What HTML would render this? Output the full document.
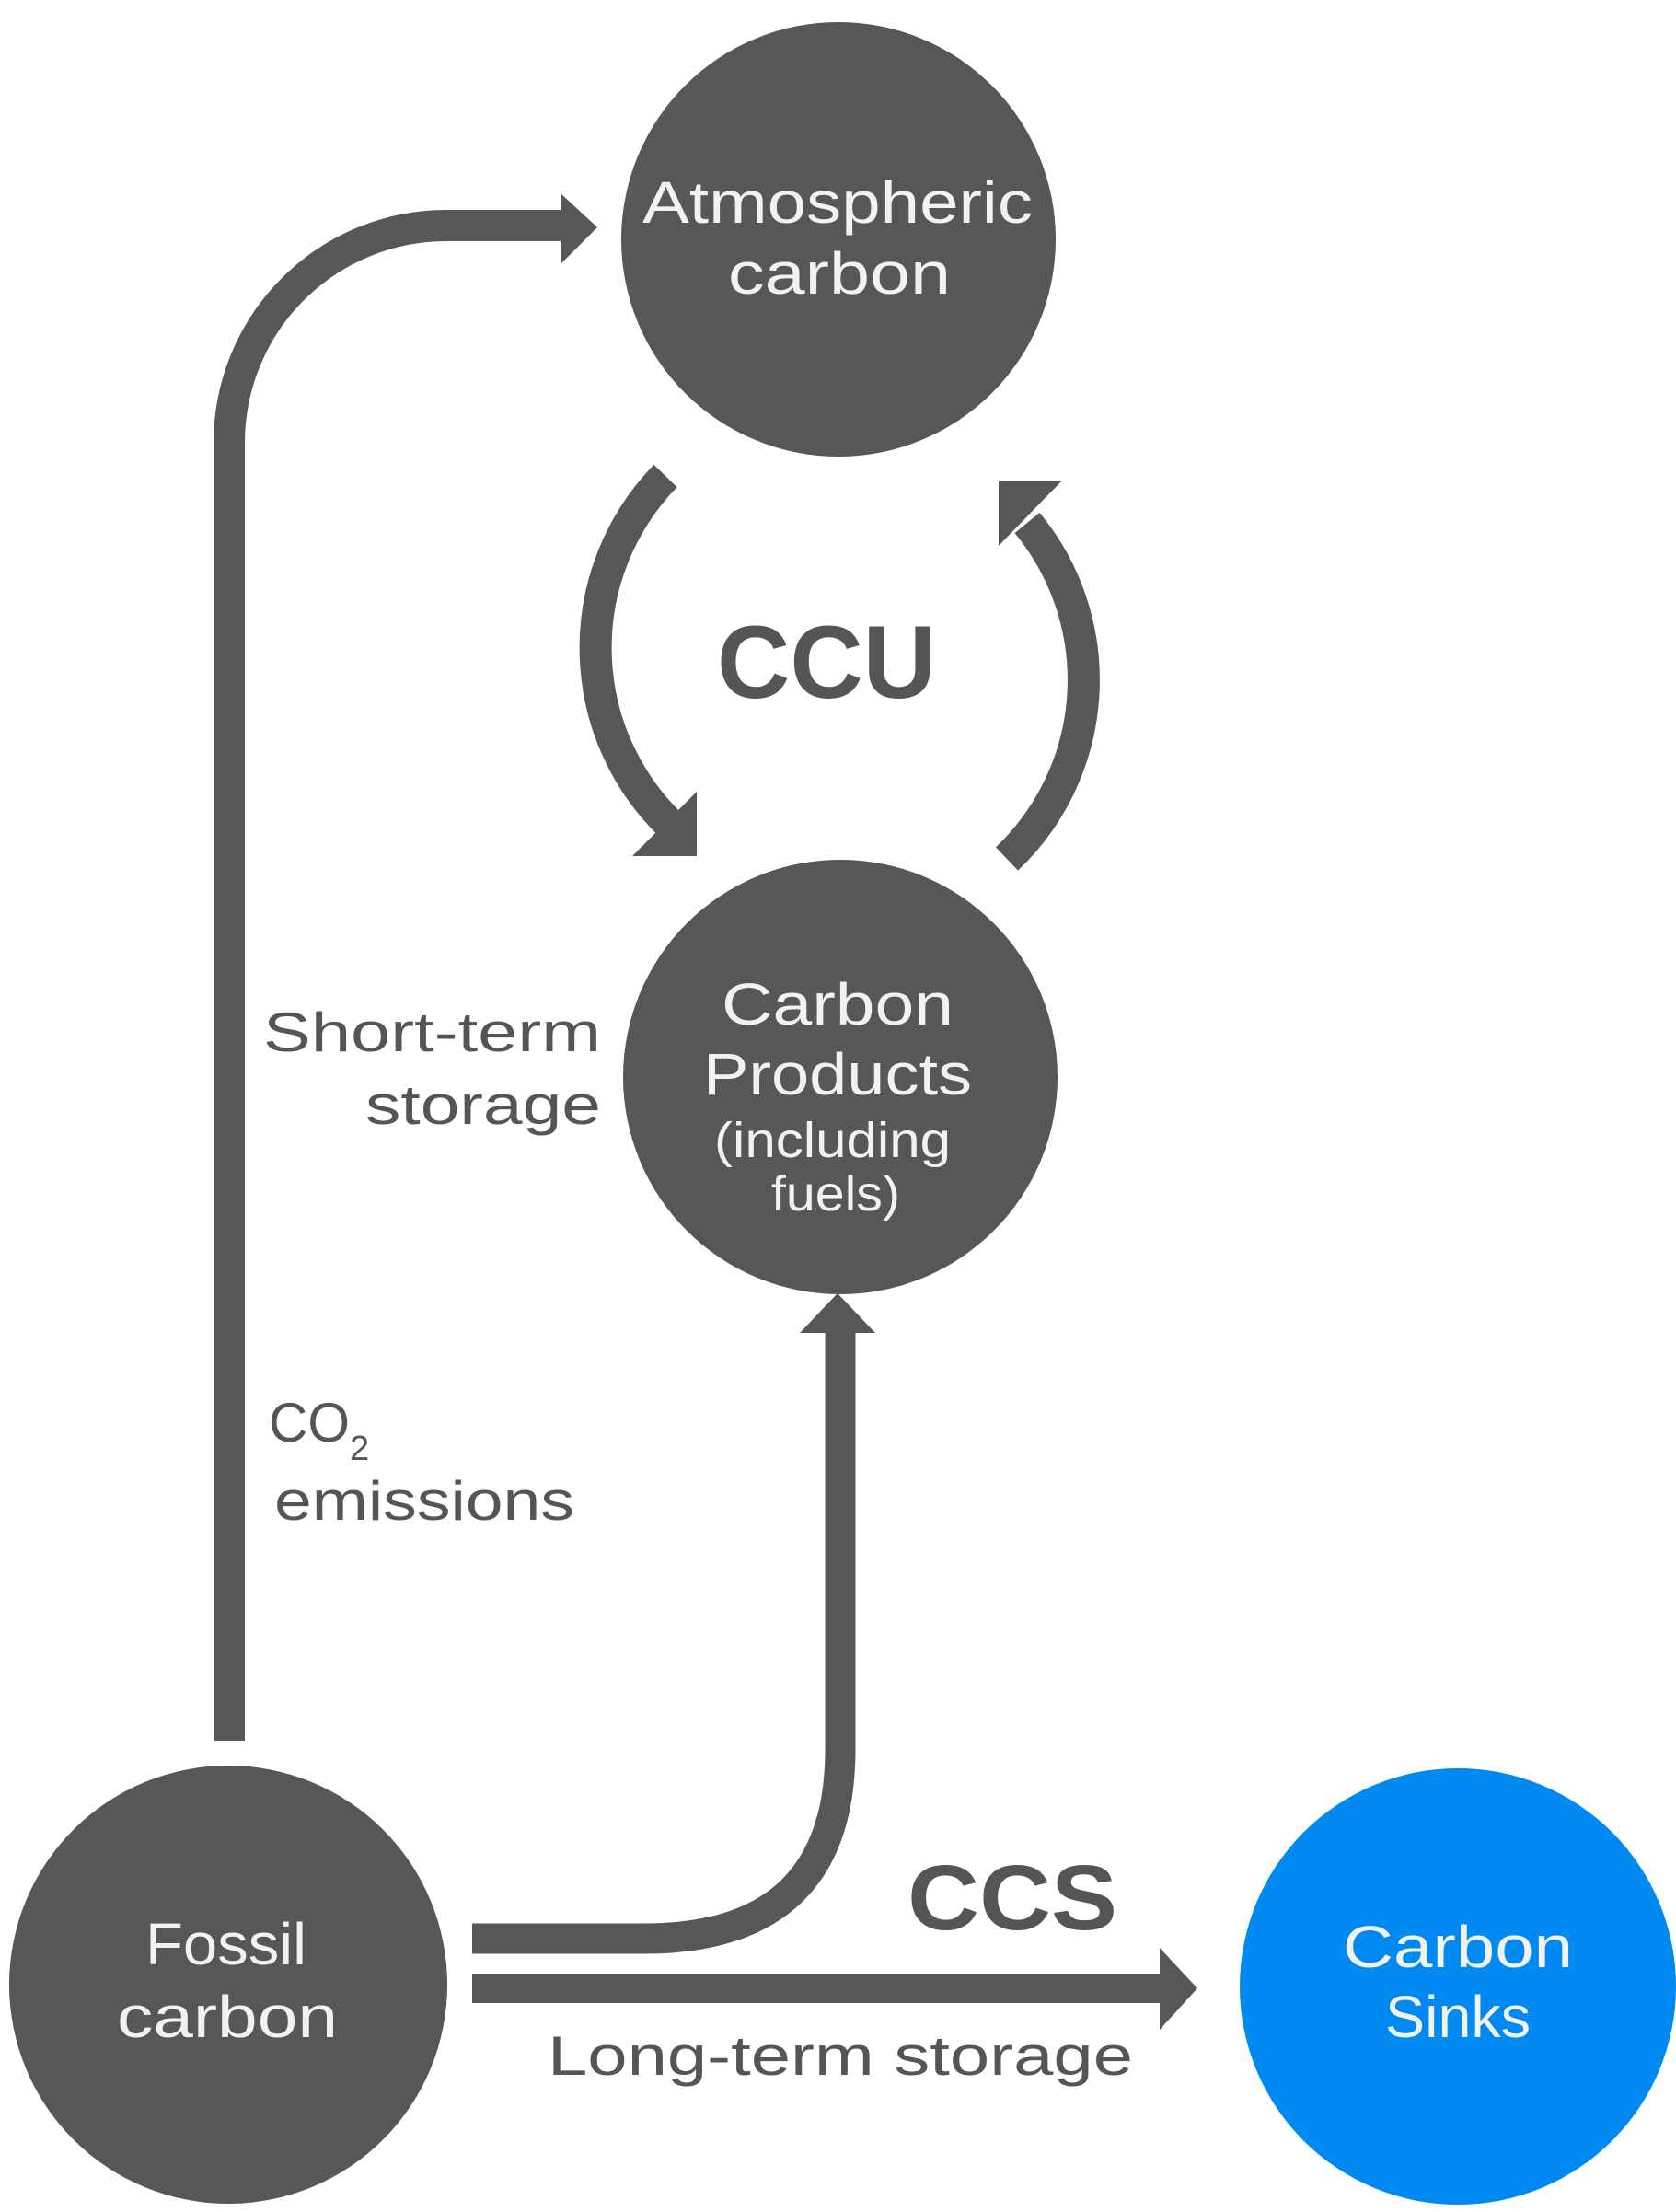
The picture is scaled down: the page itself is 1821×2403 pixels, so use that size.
<!DOCTYPE html>
<html><head><meta charset="utf-8"><style>
html,body{margin:0;padding:0;background:#fff;}
svg{display:block;}
text{font-family:"Liberation Sans",sans-serif;}
</style></head><body>
<svg width="1821" height="2403" viewBox="0 0 1821 2403" xmlns="http://www.w3.org/2000/svg">
<rect width="1821" height="2403" fill="#fff"/>
<g fill="#575757">
<circle cx="911" cy="260" r="236"/>
<circle cx="913" cy="1170" r="236"/>
<circle cx="248" cy="2156" r="238"/>
</g>
<circle cx="1584" cy="2158" r="237" fill="#0089f0"/>
<g fill="none" stroke="#575757" stroke-width="34">
<path d="M249,1891 L249,481 A236,236 0 0 1 485,245 L612,245"/>
<path d="M513,2106 L700,2106 C850,2106 913,2030 913,1900 L913,1445" stroke-width="33"/>
<path d="M513,2160 L1262,2160" stroke-width="32"/>
<path d="M723,517 A268,268 0 0 0 738,905" stroke-width="35"/>
<path d="M1094,933 A268,268 0 0 0 1116,568" stroke-width="35"/>
</g>
<g fill="#575757">
<polygon points="609,210 649,247 609,287"/>
<polygon points="869,1448 910,1405 951,1448"/>
<polygon points="1260,2116 1301,2160 1260,2205"/>
<polygon points="687,930 757,930 757,860"/>
<polygon points="1085,522 1154,522 1085,593"/>
</g>
<g fill="#f2f2f2" font-size="64">
<text x="698" y="242" textLength="424" lengthAdjust="spacingAndGlyphs">Atmospheric</text>
<text x="791" y="319" textLength="242" lengthAdjust="spacingAndGlyphs">carbon</text>
<text x="784" y="1113" textLength="252" lengthAdjust="spacingAndGlyphs">Carbon</text>
<text x="764" y="1189" textLength="292" lengthAdjust="spacingAndGlyphs">Products</text>
<text x="776" y="1257" font-size="54" textLength="257" lengthAdjust="spacingAndGlyphs">(including</text>
<text x="838" y="1315" font-size="54" textLength="140" lengthAdjust="spacingAndGlyphs">fuels)</text>
<text x="158" y="2134" textLength="175" lengthAdjust="spacingAndGlyphs">Fossil</text>
<text x="127" y="2213" textLength="240" lengthAdjust="spacingAndGlyphs">carbon</text>
<text x="1459" y="2137" textLength="250" lengthAdjust="spacingAndGlyphs">Carbon</text>
<text x="1505" y="2213" textLength="158" lengthAdjust="spacingAndGlyphs">Sinks</text>
</g>
<g fill="#555" font-size="60">
<text x="286" y="1142" textLength="367" lengthAdjust="spacingAndGlyphs">Short-term</text>
<text x="397" y="1221" textLength="256" lengthAdjust="spacingAndGlyphs">storage</text>
<text x="292" y="1566" textLength="88" lengthAdjust="spacingAndGlyphs">CO</text>
<text x="380" y="1586" font-size="38">2</text>
<text x="298" y="1651" textLength="326" lengthAdjust="spacingAndGlyphs">emissions</text>
<text x="595" y="2254" textLength="636" lengthAdjust="spacingAndGlyphs">Long-term storage</text>
<text x="779" y="758" font-size="112" font-weight="bold" textLength="238" lengthAdjust="spacingAndGlyphs">CCU</text>
<text x="986" y="2096" font-size="100" font-weight="bold" textLength="228" lengthAdjust="spacingAndGlyphs">CCS</text>
</g>
</svg>
</body></html>
